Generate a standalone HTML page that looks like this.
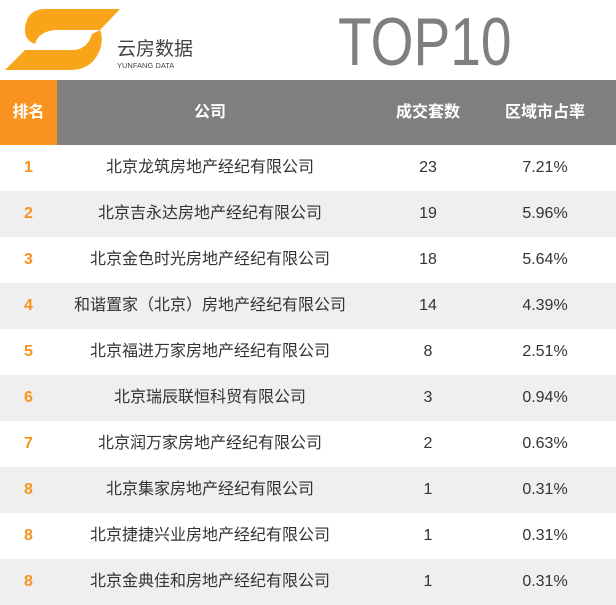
<!DOCTYPE html>
<html><head><meta charset="utf-8"><style>
body{margin:0;width:616px;height:605px;background:#fff;overflow:hidden;font-family:"Liberation Sans","Noto Sans CJK SC",sans-serif;position:relative}
.hdr{position:absolute;top:80px;left:0;width:616px;height:65px;background:#7f7f7f}
.hdr div,.row div{position:absolute;top:0;text-align:center}
.hdr div{color:#fff;font-weight:bold;font-size:16px;line-height:65px}
.rank-h{left:0;width:57px;background:#f7931e}
.row{position:absolute;left:0;width:616px;height:46px}
.row div{line-height:46px;font-size:16px;color:#333}
.row .r{left:0;width:57px;color:#f7931e;font-weight:bold}
.c1{left:57px;width:306px}.c2{left:378px;width:100px}.c3{left:490px;width:110px}
.row:nth-child(even){background:#efefef}
</style></head><body>
<svg style="position:absolute;left:0;top:0" width="220" height="78">
<path fill="#f9a51a" d="M45,9 L120,9 L100,30 L55,30 Q38,32 35,44 Q24,40 25,28 Q27,9 45,9 Z"/>
<path fill="#f9a51a" d="M100,30 Q104,40 99,52 Q91,70 70,70 L5,70 L25,50 L75,50 Q88,48 92,34 Z"/>
<text x="117" y="55" font-size="19" fill="#444" font-family="Noto Sans CJK SC,sans-serif">云房数据</text>
<text x="117" y="68" font-size="7.5" fill="#444" font-family="Liberation Sans,sans-serif">YUNFANG DATA</text>
</svg>
<div style="position:absolute;left:338px;top:2px;font-size:68px;line-height:80px;color:#7f7f7f;transform:scaleX(0.81);transform-origin:left top">TOP10</div>
<div class="hdr">
<div class="rank-h">排名</div>
<div class="c1">公司</div>
<div class="c2">成交套数</div>
<div class="c3">区域市占率</div>
</div>
<div id="rows" style="position:absolute;top:145px;left:0"></div>
<script>
const ranks=["1","2","3","4","5","6","7","8","8","8"];
const companies=["北京龙筑房地产经纪有限公司","北京吉永达房地产经纪有限公司","北京金色时光房地产经纪有限公司","和谐置家（北京）房地产经纪有限公司","北京福进万家房地产经纪有限公司","北京瑞辰联恒科贸有限公司","北京润万家房地产经纪有限公司","北京集家房地产经纪有限公司","北京捷捷兴业房地产经纪有限公司","北京金典佳和房地产经纪有限公司"];
const counts=[23,19,18,14,8,3,2,1,1,1];
const shares=["7.21%","5.96%","5.64%","4.39%","2.51%","0.94%","0.63%","0.31%","0.31%","0.31%"];
const host=document.getElementById('rows');
ranks.forEach((r,i)=>{
const row=document.createElement('div');row.className='row';row.style.top=(i*46)+'px';


const vals=[['r',r,'rank-cell'],['c1',companies[i],'company-cell'],['c2',counts[i],'count-cell'],['c3',shares[i],'share-cell']];
vals.forEach(v=>{const d=document.createElement('div');d.className=v[0];d.textContent=v[1];


row.appendChild(d);});
host.appendChild(row);
});
</script>
</body></html>
